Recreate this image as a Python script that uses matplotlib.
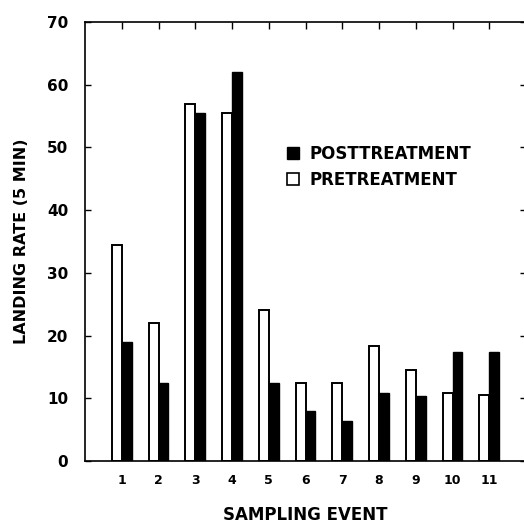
import numpy as np
import matplotlib
matplotlib.use('Agg')
import matplotlib.pyplot as plt
from matplotlib.patches import Rectangle

events = ['1', '2', '3', '4', '5', '6', '7', '8', '9', '10', '11']
pretreatment = [34.5, 22, 57, 55.5, 24, 12.5, 12.5, 18.4, 14.5, 10.9, 10.5]
posttreatment = [19, 12.5, 55.5, 62, 12.4, 7.9, 6.3, 10.8, 10.4, 17.4, 17.4]

plt.rcParams['font.family'] = ['DejaVu Sans']
plt.rcParams['font.weight'] = 'bold'

fig = plt.figure(figsize=(5.24, 5.27), dpi=100)
ax = fig.add_axes([85 / 524, 66 / 527, 441 / 524, 439 / 527])

x = np.arange(1, len(events) + 1)
w = 0.27
ax.bar(x - w / 2, pretreatment, w, color='white', edgecolor='black', linewidth=1.4,
       label='PRETREATMENT')
ax.bar(x + w / 2, posttreatment, w, color='black', edgecolor='black', linewidth=1.0,
       label='POSTTREATMENT')

ax.set_xlim(0, 12)
ax.set_ylim(0, 70)
ax.set_yticks(range(0, 71, 10))
ax.set_xticks(x)
ax.set_xticklabels(events, fontsize=9, fontweight='bold')
for lab in ax.get_yticklabels():
    lab.set_fontsize(11)
    lab.set_fontweight('bold')

ax.tick_params(axis='y', direction='in', length=4, width=1, right=True, pad=12)
ax.tick_params(axis='x', direction='in', length=0, top=False, pad=9)
# ticks along the top edge only
sec = ax.secondary_xaxis('top')
sec.set_xticks(x)
sec.set_xticklabels([])
sec.tick_params(direction='in', length=5, width=1)
sec.spines['top'].set_visible(False)

for s in ax.spines.values():
    s.set_linewidth(1.2)

ax.set_xlabel('SAMPLING EVENT', fontsize=12, fontweight='bold', labelpad=14)
ax.set_ylabel('LANDING RATE (5 MIN)', fontsize=11.5, fontweight='bold', labelpad=13)

handles = [Rectangle((0, 0), 1, 1, facecolor='black', edgecolor='black'),
           Rectangle((0, 0), 1, 1, facecolor='white', edgecolor='black', linewidth=1.2)]
ax.legend(handles, ['POSTTREATMENT', 'PRETREATMENT'], loc='upper left',
          bbox_to_anchor=(0.425, 0.755), frameon=False,
          handlelength=0.7, handleheight=0.7, handletextpad=0.6, labelspacing=0.5,
          prop={'weight': 'bold', 'size': 12})

fig.savefig('out.png', dpi=100)
